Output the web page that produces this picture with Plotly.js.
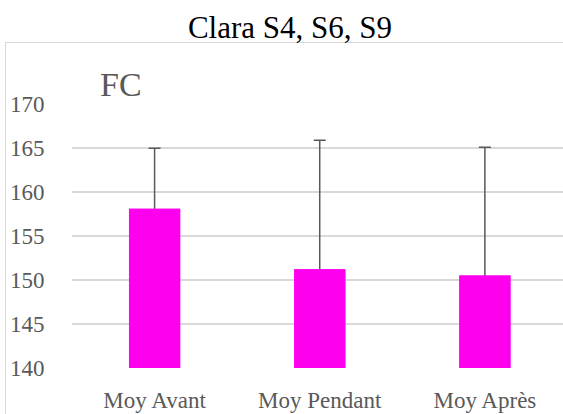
<!DOCTYPE html>
<html>
<head>
<meta charset="utf-8">
<script src="https://cdn.plot.ly/plotly-3.0.1.min.js"></script>
<style>
html,body{margin:0;padding:0;overflow:hidden;background:#fff;}
#frame{position:absolute;left:5px;top:42px;width:700px;height:500px;border:1.5px solid #d9d9d9;pointer-events:none;}
#chart{position:absolute;left:0;top:0;width:563px;height:414px;}
</style>
</head>
<body>
<div id="frame"></div>
<div id="chart"></div>
<script>
const categories = ["Moy Avant", "Moy Pendant", "Moy Après"];
const means = [158.1, 151.2, 150.5];
const errPlus = [6.9, 14.7, 14.6];
const tickValues = [140, 145, 150, 155, 160, 165, 170];
const chartTitle = "Clara S4, S6, S9";
const seriesLabel = "FC";

const barColor = "#ff00ee";
const labelFont = "'Liberation Serif', 'Times New Roman', serif";

// trace with symmetric error bars; its lower whisker is hidden by the overlaid copy
const traceErr = {
  type: "bar",
  x: categories,
  y: means,
  marker: {color: barColor, line: {width: 0}},
  width: 0.31,
  error_y: {
    type: "data",
    symmetric: true,
    array: errPlus,
    color: "#595959",
    thickness: 1.5,
    width: 6
  },
  hoverinfo: "skip"
};
const traceCover = {
  type: "bar",
  x: categories,
  y: means,
  marker: {color: barColor, line: {width: 0}},
  width: 0.31,
  hoverinfo: "skip"
};

const layout = {
  width: 563,
  height: 414,
  margin: {l: 72, r: 0, t: 104, b: 46},
  paper_bgcolor: "rgba(0,0,0,0)",
  plot_bgcolor: "rgba(0,0,0,0)",
  showlegend: false,
  barmode: "overlay",
  title: {
    text: chartTitle,
    font: {family: labelFont, size: 31, color: "#000"},
    xref: "container", x: 0.515, xanchor: "center",
    yref: "container", y: 1 - 27/414, yanchor: "middle"
  },
  xaxis: {
    type: "category",
    range: [-0.5, 2.473],
    ticks: "outside", ticklen: 11, tickcolor: "rgba(0,0,0,0)",
    showgrid: false, zeroline: false, showline: false,
    tickfont: {family: labelFont, size: 23, color: "#595959"},
    fixedrange: true
  },
  yaxis: {
    range: [139.97, 170.03],
    tickvals: tickValues,
    ticks: "outside", ticklen: 22, tickcolor: "rgba(0,0,0,0)",
    showgrid: true, gridcolor: "#d9d9d9", gridwidth: 1.5,
    zeroline: false, showline: false,
    tickfont: {family: labelFont, size: 23, color: "#595959"},
    fixedrange: true
  },
  annotations: [{
    text: seriesLabel,
    xref: "paper", yref: "paper",
    x: (98 - 72) / 491, xanchor: "left",
    y: (368 - 84) / 264, yanchor: "middle",
    showarrow: false,
    font: {family: labelFont, size: 34, color: "#595959"}
  }]
};

Plotly.newPlot("chart", [traceErr, traceCover], layout, {staticPlot: true, displayModeBar: false});
</script>
</body>
</html>
